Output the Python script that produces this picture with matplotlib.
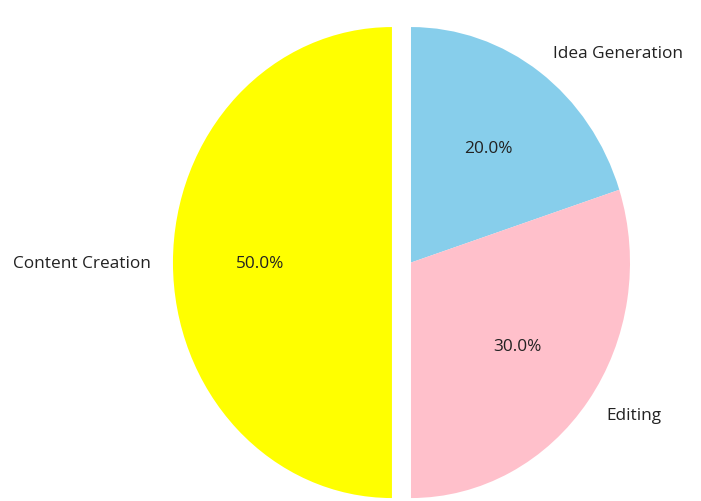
import matplotlib
matplotlib.use("Agg")
import matplotlib.pyplot as plt

labels = ["Idea Generation", "Editing", "Content Creation"]
sizes = [20, 30, 50]
colors = ["skyblue", "pink", "yellow"]
explode = [0, 0, 0.087]

plt.rcParams["font.family"] = ["Open Sans", "DejaVu Sans"]

fig = plt.figure(figsize=(7.01, 5.02), dpi=100)
ax = fig.add_axes([0.1958, -0.1114, 0.781, 1.1728])
ax.pie(sizes, labels=labels, colors=colors, explode=explode,
       autopct="%1.1f%%", startangle=90, counterclock=False,
       textprops={"fontsize": 12.4, "color": "#222222"})
ax.set_aspect("auto")
ax.set_xlim(-1.25, 1.25)
ax.set_ylim(-1.25, 1.25)

fig.savefig("out.png", dpi=100)
